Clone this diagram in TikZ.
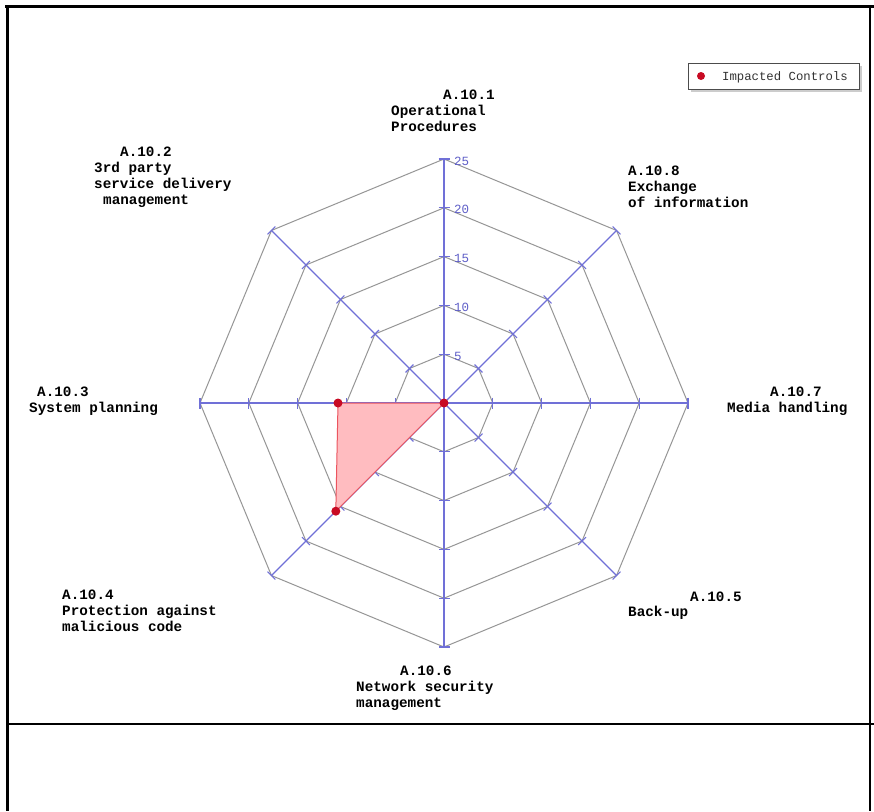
\documentclass[tikz,border=0pt]{standalone}
\usepackage{fontspec}
\usetikzlibrary{calc}
\newfontfamily\chartfont{Liberation Mono}
\definecolor{axisblue}{RGB}{112,112,215}
\definecolor{ticklbl}{RGB}{95,95,200}
\definecolor{gridgray}{RGB}{150,150,150}
\definecolor{areafill}{RGB}{255,188,192}
\definecolor{areaedge}{RGB}{235,85,95}
\definecolor{dotred}{RGB}{200,10,35}
\tikzset{
  axisline/.style={draw=axisblue, line width=1.1pt},
  gridline/.style={draw=gridgray, line width=1pt},
  lbl/.style={anchor=base west, inner sep=0pt, yshift=-4.5pt, font=\chartfont\bfseries\fontsize{14.3}{16}\selectfont},
  ticktext/.style={anchor=west, inner sep=0pt, text=ticklbl, font=\chartfont\fontsize{12.5}{14}\selectfont},
  datadot/.style={circle, fill=dotred, inner sep=0pt, minimum size=9pt},
  framel/.style={draw=black, line width=3pt}
}
\newcommand\chartlbl[4]{\node[lbl] (#1) at (#2,#3) {#4};}
\begin{document}
\begin{tikzpicture}[x=1pt,y=-1pt]
\fill[white] (0,0) rectangle (874,811);
\useasboundingbox (0,0) rectangle (874,811);
% frame
\draw[framel] (5,6) -- (874,6);
\draw[framel] (7,5) -- (7,811);
\draw[draw=black, line width=2pt] (870,6) -- (870,811);
\draw[draw=black, line width=2pt] (7,724) -- (874,724);
% chart
\begin{scope}[shift={(444,403)}]
  \coordinate (C) at (0,0);
  % grid rings
  \foreach \r in {48.8,97.6,146.4,195.2,244} {
    \draw[gridline] (0:\r pt) -- (45:\r pt) -- (90:\r pt) -- (135:\r pt) -- (180:\r pt) -- (225:\r pt) -- (270:\r pt) -- (315:\r pt) -- cycle;
  }
  % axes
  \foreach \a in {0,45,...,315} {
    \coordinate (E\a) at (\a:244pt);
    \draw[axisline] (C) -- (E\a);
    \foreach \r in {48.8,97.6,146.4,195.2,244} {
      \draw[axisline] ($(\a:\r pt)+(\a+90:5.5pt)$) -- ($(\a:\r pt)+(\a-90:5.5pt)$);
    }
  }
  % tick labels
  \node[ticktext] (t5)  at ($(90:48.8pt)+(10pt,-2pt)$) {5};
  \node[ticktext] (t10) at ($(90:97.6pt)+(10pt,-2pt)$) {10};
  \node[ticktext] (t15) at ($(90:146.4pt)+(10pt,-2pt)$) {15};
  \node[ticktext] (t20) at ($(90:195.2pt)+(10pt,-2pt)$) {20};
  \node[ticktext] (t25) at ($(90:244pt)+(10pt,-2pt)$) {25};
  % data area
  \coordinate (P3) at (180:106pt);
  \coordinate (P4) at (225:153pt);
  \fill[areafill] (C) -- (P3) -- (P4) -- cycle;
  \draw[areaedge, line width=1pt] (C) -- (P3) -- (P4) -- cycle;
  \node[datadot] (d0) at (C) {};
  \node[datadot] (d3) at (P3) {};
  \node[datadot] (d4) at (P4) {};
\end{scope}
% axis labels
\chartlbl{a1a}{443}{95}{A.10.1}
\chartlbl{a1b}{391}{111}{Operational}
\chartlbl{a1c}{391}{127}{Procedures}
\chartlbl{a2a}{120}{152}{A.10.2}
\chartlbl{a2b}{94}{168}{3rd party}
\chartlbl{a2c}{94}{184}{service delivery}
\chartlbl{a2d}{103}{200}{management}
\chartlbl{a8a}{628}{171}{A.10.8}
\chartlbl{a8b}{628}{187}{Exchange}
\chartlbl{a8c}{628}{203}{of information}
\chartlbl{a3a}{37}{392}{A.10.3}
\chartlbl{a3b}{29}{408}{System planning}
\chartlbl{a7a}{770}{392}{A.10.7}
\chartlbl{a7b}{727}{408}{Media handling}
\chartlbl{a4a}{62}{595}{A.10.4}
\chartlbl{a4b}{62}{611}{Protection against}
\chartlbl{a4c}{62}{627}{malicious code}
\chartlbl{a5a}{690}{597}{A.10.5}
\chartlbl{a5b}{628}{612}{Back-up}
\chartlbl{a6a}{400}{671}{A.10.6}
\chartlbl{a6b}{356}{687}{Network security}
\chartlbl{a6c}{356}{703}{management}
% legend
\fill[gray!40] (691,66) rectangle (862,92);
\draw[draw=black!70, fill=white, line width=1pt] (688,63) rectangle (859,89);
\node[datadot, minimum size=8pt] (ldot) at (701,76) {};
\node[anchor=west, inner sep=0pt, font=\chartfont\fontsize{12.3}{14}\selectfont, text=black!80] (ltext) at (722,77) {Impacted Controls};
\end{tikzpicture}
\end{document}
